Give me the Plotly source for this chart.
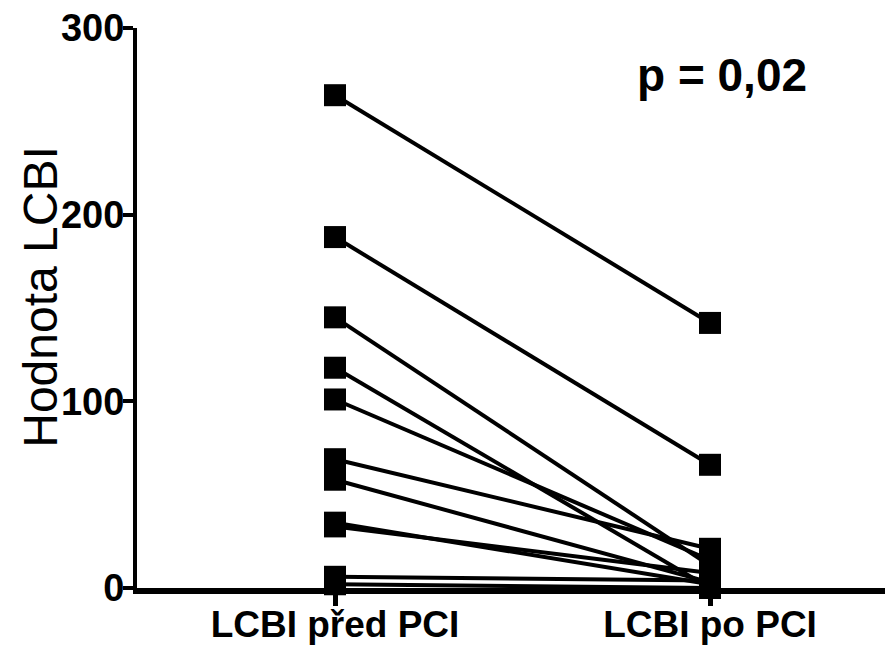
import plotly.graph_objects as go

categories = ["LCBI před PCI", "LCBI po PCI"]
before = [264, 188, 145, 118, 101, 69, 58, 35, 33, 6, 2]
after = [142, 66, 12, 0, 15, 21, 3, 2, 8, 4, 0]
y_ticks = [0, 100, 200, 300]

fig = go.Figure()
for b, a in zip(before, after):
    fig.add_trace(go.Scatter(
        x=[0, 1], y=[b, a], mode="lines+markers",
        line=dict(color="black", width=4),
        marker=dict(symbol="square", size=22, color="black"),
        cliponaxis=False, showlegend=False, hoverinfo="skip"))

fig.add_annotation(x=0.774, y=0.916, xref="paper", yref="paper",
                   xanchor="center", yanchor="middle",
                   text="p = 0,02", showarrow=False,
                   font=dict(family="Liberation Sans, Arial", size=46, color="black", weight="bold"))
fig.add_annotation(x=-0.127, y=0.52, xref="paper", yref="paper",
                   xanchor="center", yanchor="middle", textangle=-90,
                   text="Hodnota LCBI", showarrow=False,
                   font=dict(family="Liberation Sans, Arial", size=48, color="black"))

fig.update_layout(
    width=893, height=654,
    margin=dict(l=129, r=8, t=20, b=74),
    plot_bgcolor="white", paper_bgcolor="white",
    font=dict(family="Liberation Sans, Arial", color="black"),
    xaxis=dict(range=[-0.528, 1.488], tickvals=[0, 1], ticktext=categories,
               automargin=False,
               showgrid=False, zeroline=False, showline=True, linecolor="black", linewidth=6,
               ticks="outside", ticklen=12, tickwidth=5, tickcolor="black",
               ticklabelstandoff=-13,
               tickfont=dict(size=37, weight="bold")),
    yaxis=dict(range=[0, 300], tickvals=y_ticks,
               automargin=False,
               showgrid=False, zeroline=False, showline=True, linecolor="black", linewidth=4,
               ticks="outside", ticklen=10, tickwidth=4, tickcolor="black",
               ticklabeloverflow="allow", ticklabelstandoff=-9,
               tickfont=dict(size=38, weight="bold")),
)
fig.write_html("out.html")
